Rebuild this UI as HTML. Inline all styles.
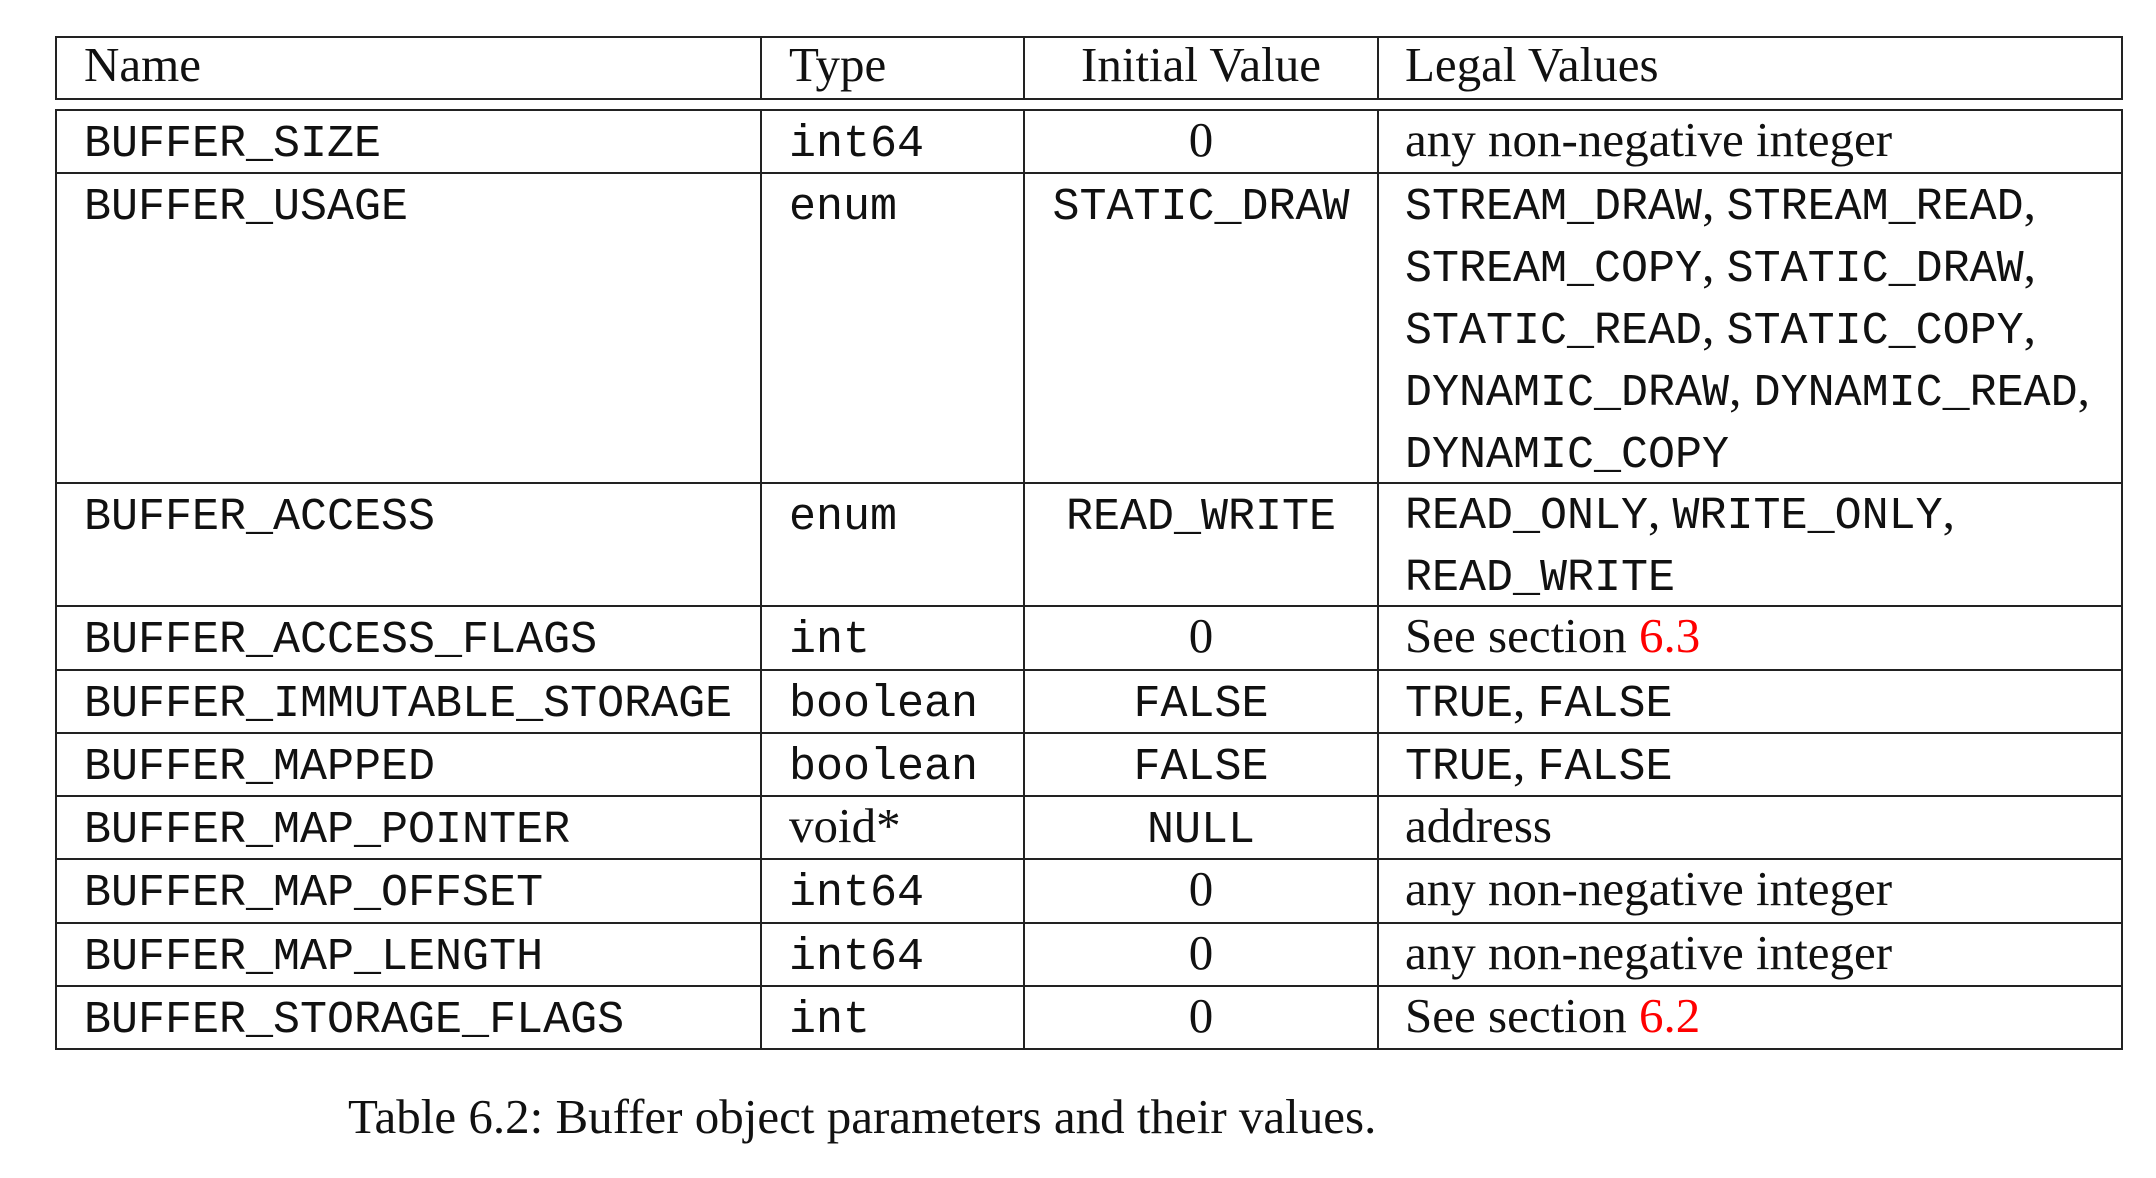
<!DOCTYPE html>
<html><head><meta charset="utf-8"><style>
body{margin:0;width:2156px;height:1178px;background:#fff;position:relative;overflow:hidden}
.h{position:absolute;height:2px;background:#222}
.v{position:absolute;width:2px;background:#222}
.t{position:absolute;line-height:63px;white-space:nowrap;color:#111}
.s{font-family:"Liberation Serif",serif;font-size:49px}
.t.s{margin-top:-2px}
.m{font-family:"Liberation Mono",monospace;font-size:45px;margin-top:3px}
.c{width:354px;text-align:center;left:1024px}
.r{color:#f00}
.ml{line-height:62px}
.ml span{line-height:10px}
</style></head><body>
<div class="h" style="left:55px;width:2068px;top:36px"></div>
<div class="h" style="left:55px;width:2068px;top:98px"></div>
<div class="h" style="left:55px;width:2068px;top:109px"></div>
<div class="h" style="left:55px;width:2068px;top:172px"></div>
<div class="h" style="left:55px;width:2068px;top:482px"></div>
<div class="h" style="left:55px;width:2068px;top:605px"></div>
<div class="h" style="left:55px;width:2068px;top:669px"></div>
<div class="h" style="left:55px;width:2068px;top:732px"></div>
<div class="h" style="left:55px;width:2068px;top:795px"></div>
<div class="h" style="left:55px;width:2068px;top:858px"></div>
<div class="h" style="left:55px;width:2068px;top:922px"></div>
<div class="h" style="left:55px;width:2068px;top:985px"></div>
<div class="h" style="left:55px;width:2068px;top:1048px"></div>
<div class="v" style="left:55px;top:36px;height:64px"></div>
<div class="v" style="left:760px;top:36px;height:64px"></div>
<div class="v" style="left:1023px;top:36px;height:64px"></div>
<div class="v" style="left:1377px;top:36px;height:64px"></div>
<div class="v" style="left:2121px;top:36px;height:64px"></div>
<div class="v" style="left:55px;top:109px;height:941px"></div>
<div class="v" style="left:760px;top:109px;height:941px"></div>
<div class="v" style="left:1023px;top:109px;height:941px"></div>
<div class="v" style="left:1377px;top:109px;height:941px"></div>
<div class="v" style="left:2121px;top:109px;height:941px"></div>

<div class="t s" style="left:84px;top:35px">Name</div>
<div class="t s" style="left:789px;top:35px">Type</div>
<div class="t s c" style="top:35px">Initial Value</div>
<div class="t s" style="left:1405px;top:35px">Legal Values</div>

<div class="t m" style="left:84px;top:110px">BUFFER_SIZE</div>
<div class="t m" style="left:789px;top:110px">int64</div>
<div class="t s c" style="top:110px">0</div>
<div class="t s" style="left:1405px;top:110px">any non-negative integer</div>

<div class="t m" style="left:84px;top:173px">BUFFER_USAGE</div>
<div class="t m" style="left:789px;top:173px">enum</div>
<div class="t m c" style="top:173px">STATIC_DRAW</div>
<div class="t m ml" style="left:1405px;top:174px">STREAM_DRAW<span class="s">, </span>STREAM_READ<span class="s">,</span><br>STREAM_COPY<span class="s">, </span>STATIC_DRAW<span class="s">,</span><br>STATIC_READ<span class="s">, </span>STATIC_COPY<span class="s">,</span><br>DYNAMIC_DRAW<span class="s">, </span>DYNAMIC_READ<span class="s">,</span><br>DYNAMIC_COPY</div>

<div class="t m" style="left:84px;top:483px">BUFFER_ACCESS</div>
<div class="t m" style="left:789px;top:483px">enum</div>
<div class="t m c" style="top:483px">READ_WRITE</div>
<div class="t m ml" style="left:1405px;top:483px">READ_ONLY<span class="s">, </span>WRITE_ONLY<span class="s">,</span><br>READ_WRITE</div>

<div class="t m" style="left:84px;top:606px">BUFFER_ACCESS_FLAGS</div>
<div class="t m" style="left:789px;top:606px">int</div>
<div class="t s c" style="top:606px">0</div>
<div class="t s" style="left:1405px;top:606px">See section <span class="r">6.3</span></div>

<div class="t m" style="left:84px;top:670px">BUFFER_IMMUTABLE_STORAGE</div>
<div class="t m" style="left:789px;top:670px">boolean</div>
<div class="t m c" style="top:670px">FALSE</div>
<div class="t m" style="left:1405px;top:670px">TRUE<span class="s" style="line-height:10px">, </span>FALSE</div>

<div class="t m" style="left:84px;top:733px">BUFFER_MAPPED</div>
<div class="t m" style="left:789px;top:733px">boolean</div>
<div class="t m c" style="top:733px">FALSE</div>
<div class="t m" style="left:1405px;top:733px">TRUE<span class="s" style="line-height:10px">, </span>FALSE</div>

<div class="t m" style="left:84px;top:796px">BUFFER_MAP_POINTER</div>
<div class="t s" style="left:789px;top:796px">void*</div>
<div class="t m c" style="top:796px">NULL</div>
<div class="t s" style="left:1405px;top:796px">address</div>

<div class="t m" style="left:84px;top:859px">BUFFER_MAP_OFFSET</div>
<div class="t m" style="left:789px;top:859px">int64</div>
<div class="t s c" style="top:859px">0</div>
<div class="t s" style="left:1405px;top:859px">any non-negative integer</div>

<div class="t m" style="left:84px;top:923px">BUFFER_MAP_LENGTH</div>
<div class="t m" style="left:789px;top:923px">int64</div>
<div class="t s c" style="top:923px">0</div>
<div class="t s" style="left:1405px;top:923px">any non-negative integer</div>

<div class="t m" style="left:84px;top:986px">BUFFER_STORAGE_FLAGS</div>
<div class="t m" style="left:789px;top:986px">int</div>
<div class="t s c" style="top:986px">0</div>
<div class="t s" style="left:1405px;top:986px">See section <span class="r">6.2</span></div>

<div class="t s" style="left:348px;top:1087px">Table 6.2: Buffer object parameters and their values.</div>
</body></html>
